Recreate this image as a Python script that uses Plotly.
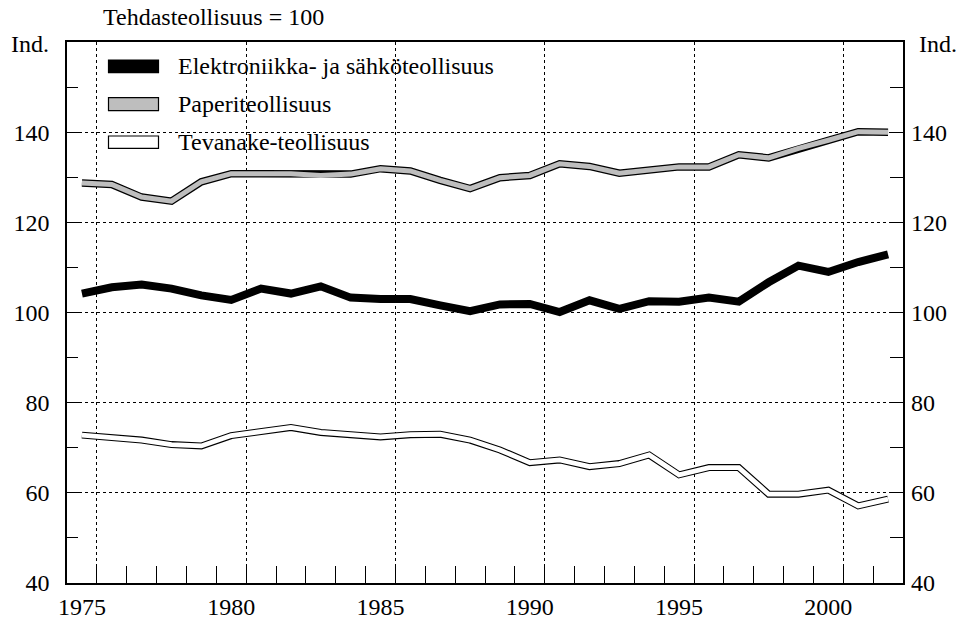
import plotly.graph_objects as go

years = list(range(1975, 2003))
elektroniikka = [104.2, 105.6, 106.2, 105.3, 103.8, 102.8, 105.3, 104.2, 105.8, 103.3,
                 103.0, 103.0, 101.6, 100.3, 101.8, 101.9, 100.1, 102.7, 100.8, 102.5,
                 102.4, 103.3, 102.4, 106.7, 110.4, 109.0, 111.2, 112.9]
paperi = [128.7, 128.4, 125.6, 124.7, 129.0, 130.8, 130.8, 130.8, 130.4, 130.7,
          131.9, 131.4, 129.3, 127.5, 129.9, 130.4, 133.0, 132.4, 130.9, 131.6,
          132.3, 132.3, 135.0, 134.3, 136.4, 138.2, 140.1, 140.0]
tekstiili = [72.8, 72.3, 71.7, 70.7, 70.4, 72.7, 73.6, 74.5, 73.4, 73.0,
             72.4, 72.9, 73.0, 71.7, 69.5, 66.7, 67.3, 65.8, 66.5, 68.4,
             64.0, 65.6, 65.6, 59.7, 59.7, 60.6, 57.1, 58.6]

series_names = ["Elektroniikka- ja sähköteollisuus", "Paperiteollisuus", "Tevanake-teollisuus"]
x_label_years = [1975, 1980, 1985, 1990, 1995, 2000]
x_grid_years = [1975.5, 1980.5, 1985.5, 1990.5, 1995.5, 2000.5]
x_minor = [y + 0.5 for y in range(1974, 2002)]
y_major = [40, 60, 80, 100, 120, 140, 160]
y_major_text = ["40", "60", "80", "100", "120", "140", ""]
y_minor = [50, 70, 90, 110, 130, 150]

FONT = "Liberation Serif, Times New Roman, Times, serif"
FS = 24
W, H = 962, 620
ML, MR, MT, MB = 67, 59, 42, 37
PW, PH = W - ML - MR, H - MT - MB
DOT = "dot"


def px(xp):
    return (xp - ML) / PW


def py(yp):
    return 1 - (yp - MT) / PH


fig = go.Figure()

# outlined lines: black outline then coloured core
fig.add_trace(go.Scatter(x=years, y=paperi, mode="lines", line=dict(color="black", width=7.5), hoverinfo="skip", showlegend=False))
fig.add_trace(go.Scatter(x=years, y=paperi, mode="lines", line=dict(color="#bebebe", width=5), name=series_names[1], showlegend=False))
fig.add_trace(go.Scatter(x=years, y=tekstiili, mode="lines", line=dict(color="black", width=7), hoverinfo="skip", showlegend=False))
fig.add_trace(go.Scatter(x=years, y=tekstiili, mode="lines", line=dict(color="white", width=4.8), name=series_names[2], showlegend=False))
fig.add_trace(go.Scatter(x=years, y=elektroniikka, mode="lines", line=dict(color="black", width=8), name=series_names[0], showlegend=False))
# invisible carriers so the overlay axes (grid / right axis) get drawn
fig.add_trace(go.Scatter(x=years, y=elektroniikka, xaxis="x2", yaxis="y", mode="lines",
                         line=dict(width=0), opacity=0, hoverinfo="skip", showlegend=False))
fig.add_trace(go.Scatter(x=years, y=elektroniikka, xaxis="x", yaxis="y2", mode="lines",
                         line=dict(width=0), opacity=0, hoverinfo="skip", showlegend=False))

tickfont = dict(family=FONT, size=FS, color="black")

fig.update_layout(
    width=W, height=H,
    margin=dict(l=ML, r=MR, t=MT, b=MB),
    paper_bgcolor="white", plot_bgcolor="white",
    font=dict(family=FONT, size=FS, color="black"),
    showlegend=False,
    xaxis=dict(
        range=[1974.5, 2002.5], tickmode="array", tickvals=x_label_years,
        ticktext=[str(v) for v in x_label_years], ticks="", showgrid=False, zeroline=False,
        showline=True, mirror=True, linecolor="black", linewidth=1.5,
        tickfont=tickfont, ticklabelstandoff=1, automargin=False,
    ),
    xaxis2=dict(
        overlaying="x", anchor="y", side="bottom", range=[1974.5, 2002.5],
        tickmode="array", tickvals=x_grid_years, showticklabels=False,
        ticks="inside", ticklen=17, tickcolor="black", tickwidth=1.3,
        showgrid=True, gridcolor="black", griddash=DOT, gridwidth=1, zeroline=False,
        automargin=False,
        minor=dict(tickmode="array", tickvals=x_minor, ticks="inside", ticklen=17,
                   tickcolor="black", tickwidth=1.3, showgrid=False),
    ),
    yaxis=dict(
        range=[40, 160], tickmode="array", tickvals=y_major, ticktext=y_major_text,
        ticks="inside", ticklen=13,
        tickcolor="black", tickwidth=1.3, showgrid=True, gridcolor="black", griddash=DOT,
        gridwidth=1, zeroline=False, showline=True, mirror=True, linecolor="black",
        linewidth=1.5, tickfont=tickfont, ticklabelstandoff=11, automargin=False,
        minor=dict(tickmode="array", tickvals=y_minor, ticks="inside", ticklen=11,
                   tickcolor="black", tickwidth=1.3, showgrid=False),
    ),
    yaxis2=dict(
        overlaying="y", anchor="x", side="right", range=[40, 160], tickmode="array",
        tickvals=y_major, ticktext=y_major_text, ticks="inside", ticklen=13,
        tickcolor="black", tickwidth=1.3,
        showgrid=False, zeroline=False, showline=False, tickfont=tickfont,
        ticklabelstandoff=7, automargin=False,
        minor=dict(tickmode="array", tickvals=y_minor, ticks="inside", ticklen=13,
                   tickcolor="black", tickwidth=1.3, showgrid=False),
    ),
)

# legend (manual)
swatches = [("black", "black", 60, 72.7), ("#bebebe", "black", 97.7, 110.7), ("white", "black", 136, 148.3)]
text_y = [66, 104, 142]
for (fill, line, y0, y1), name, ty in zip(swatches, series_names, text_y):
    fig.add_shape(type="rect", xref="paper", yref="paper", x0=px(108.5), x1=px(158.5),
                  y0=py(y1), y1=py(y0), fillcolor=fill, line=dict(color=line, width=1.2))
    fig.add_annotation(xref="paper", yref="paper", x=px(176), y=py(ty), text=name,
                       showarrow=False, xanchor="left", yanchor="middle",
                       font=dict(family=FONT, size=FS, color="black"))

fig.add_annotation(xref="paper", yref="paper", x=px(30), y=py(44), text="Ind.", showarrow=False,
                   xanchor="center", yanchor="middle", font=dict(family=FONT, size=FS, color="black"))
fig.add_annotation(xref="paper", yref="paper", x=px(938), y=py(44), text="Ind.", showarrow=False,
                   xanchor="center", yanchor="middle", font=dict(family=FONT, size=FS, color="black"))
fig.add_annotation(xref="paper", yref="paper", x=px(101), y=py(17), text="Tehdasteollisuus = 100",
                   showarrow=False, xanchor="left", yanchor="middle",
                   font=dict(family=FONT, size=FS, color="black"))

fig.write_html("out.html", config={"displayModeBar": False},
               post_script="document.body.style.margin='0';")
